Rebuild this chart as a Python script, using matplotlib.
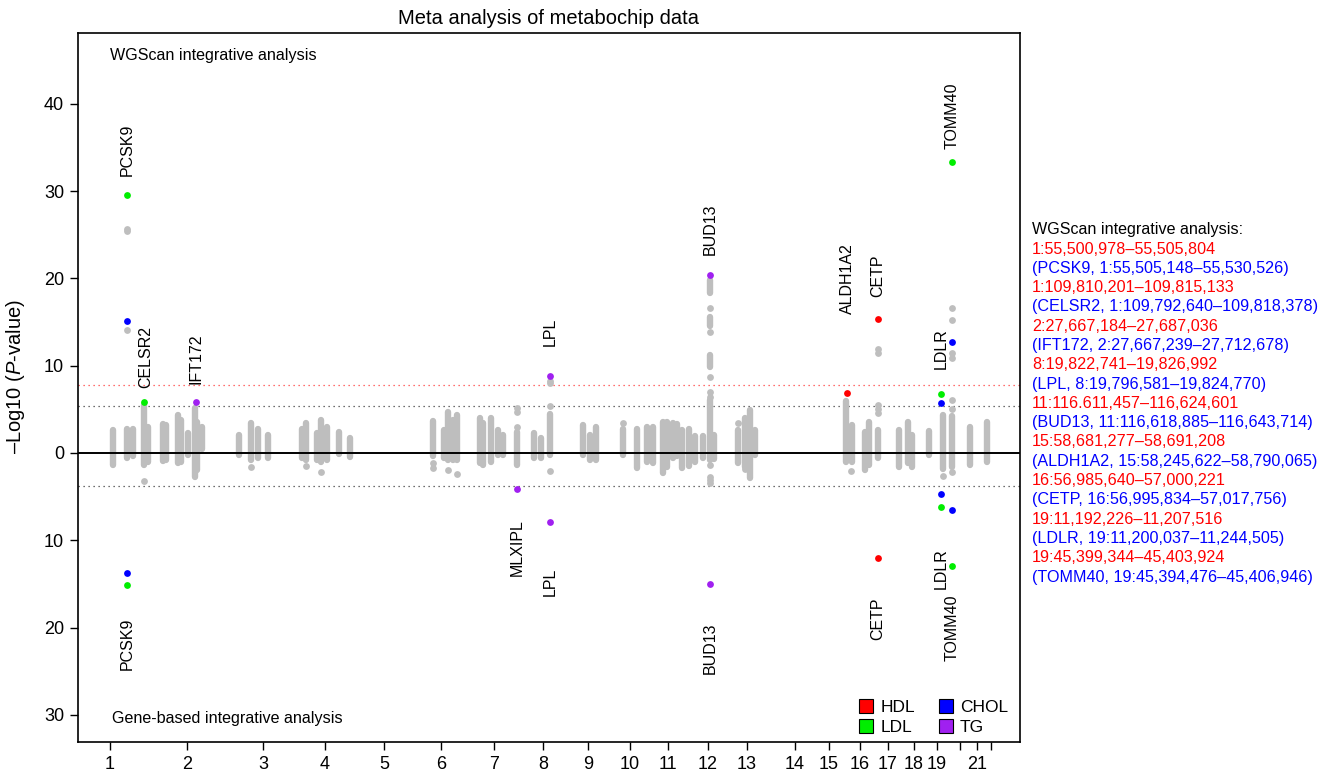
import matplotlib
matplotlib.use("Agg")
import matplotlib.pyplot as plt
from matplotlib.lines import Line2D

plt.rcParams['font.family'] = ['Liberation Sans', 'DejaVu Sans']
plt.rcParams['mathtext.fontset'] = 'custom'
plt.rcParams['mathtext.rm'] = 'Liberation Sans'
plt.rcParams['mathtext.it'] = 'Liberation Sans:italic'

# chromosome tick positions on the cumulative genome axis
chr_pos = [110, 187, 263, 325, 384, 441, 494, 543, 588, 630, 668,
           708, 747, 795, 829, 860, 888, 914, 937, 960, 977, 991]
chr_lab = ['1', '2', '3', '4', '5', '6', '7', '8', '9', '10', '11',
           '12', '13', '14', '15', '16', '17', '18', '19', '', '21', '']

# gray SNP clusters: position, lowest and highest value
col_x = [113, 127, 133, 144, 148, 163, 166, 178, 181, 188, 195, 197, 202,
         239, 251, 258, 268, 302, 306, 317, 321, 327, 339, 350,
         433, 444, 448, 453, 457, 480, 483, 491, 498, 503, 517, 534, 541, 550,
         583, 590, 596, 623, 637, 647, 653, 663, 667, 673, 677, 682, 689, 695,
         703, 710, 710, 710, 710, 714, 738, 745, 750, 755,
         846, 852, 865, 869, 878, 899, 908, 912, 929, 943, 952, 970, 987]
col_lo = [-1.4, -0.6, -0.4, -1.4, -1.0, -0.9, -0.8, -1.2, -1.0, -0.2, -2.8, -2.0, 0.5,
          -0.2, -0.8, -0.6, -0.6, -0.6, -0.8, -0.8, -1.0, -0.8, -0.1, -0.5,
          -0.4, -0.6, -0.8, -0.8, -0.8, -1.2, -1.4, -1.0, -0.2, -0.2, -1.4, -0.6, -0.6, -0.2,
          -0.2, -0.8, -0.8, -0.2, -1.7, -1.0, -1.2, -2.3, -1.6, -0.6, -0.4, -1.7, -1.5, -1.0,
          -0.6, -0.8, 18.3, 14.6, 9.9, -0.7, -1.2, -1.6, -2.9, -0.2,
          -1.0, -1.0, -1.9, -1.4, -0.6, -1.6, -1.2, -1.6, -0.2, -1.8, -1.6, -1.4, -1.0]
col_hi = [2.6, 2.8, 2.7, 5.5, 3.0, 3.3, 3.2, 4.4, 3.8, 2.3, 5.1, 3.5, 3.0,
          2.1, 3.4, 2.7, 2.1, 2.8, 3.4, 2.3, 3.8, 3.0, 2.4, 1.7,
          3.7, 2.6, 4.7, 3.8, 4.4, 4.0, 3.4, 4.0, 2.6, 2.1, 2.4, 2.3, 1.7, 4.5,
          3.2, 2.1, 3.0, 2.8, 2.8, 3.0, 3.0, 3.6, 3.5, 3.4, 3.3, 2.6, 2.8, 1.9,
          1.9, 6.1, 19.8, 15.6, 11.2, 2.1, 2.6, 4.0, 4.9, 2.6,
          5.9, 3.2, 2.4, 3.6, 2.6, 2.6, 3.6, 2.1, 2.5, 4.4, 4.2, 3.0, 3.6]

# isolated gray SNPs
dot_x = [127, 127, 127, 144, 251, 306, 321, 433, 433, 448, 457,
         517, 517, 517, 550, 550, 550, 550, 623,
         710, 710, 710, 710, 710, 710, 710, 710, 710,
         738, 745, 851, 878, 878, 878, 878, 878, 943,
         952, 952, 952, 952, 952, 952, 952]
dot_y = [25.7, 25.4, 14.1, -3.2, -1.6, -1.5, -2.2, -1.2, -1.7, -1.9, -2.4,
         5.1, 4.7, 3.0, 8.3, 8.0, 5.4, -2.1, 3.4,
         16.6, 13.9, 8.7, 7.0, 6.4, -1.4, -2.7, -3.1, -3.4,
         3.4, -1.8, -2.1, 11.9, 11.5, 5.5, 5.0, 4.6, -2.6,
         16.6, 15.2, 11.4, 10.9, 6.1, 5.0, -2.2]

# significant loci per trait (positive = WGScan, negative = gene-based)
hdl_x = [847, 878, 878]
hdl_y = [6.9, 15.3, -12.0]
ldl_x = [127, 144, 941, 952, 127, 941, 952]
ldl_y = [29.5, 5.8, 6.7, 33.3, -15.1, -6.2, -13.0]
chol_x = [127, 941, 952, 127, 941, 952]
chol_y = [15.1, 5.7, 12.7, -13.7, -4.7, -6.5]
tg_x = [196, 550, 710, 517, 550, 710]
tg_y = [5.8, 8.8, 20.4, -4.1, -7.9, -15.0]

# gene labels: name, position, anchor value
gene_lab = ['PCSK9', 'CELSR2', 'IFT172', 'LPL', 'BUD13', 'ALDH1A2', 'CETP', 'LDLR', 'TOMM40',
            'PCSK9', 'MLXIPL', 'LPL', 'BUD13', 'CETP', 'LDLR', 'TOMM40']
gene_x = [127, 146, 196, 550, 710, 847, 878, 941, 952,
          127, 517, 550, 710, 878, 941, 952]
gene_y = [31.7, 7.4, 7.9, 12.3, 22.7, 15.9, 17.9, 9.6, 34.8,
          -18.9, -7.6, -13.1, -19.4, -16.5, -10.9, -16.2]

right_lines = ['1:55,500,978\u201355,505,804',
               '(PCSK9, 1:55,505,148\u201355,530,526)',
               '1:109,810,201\u2013109,815,133',
               '(CELSR2, 1:109,792,640\u2013109,818,378)',
               '2:27,667,184\u201327,687,036',
               '(IFT172, 2:27,667,239\u201327,712,678)',
               '8:19,822,741\u201319,826,992',
               '(LPL, 8:19,796,581\u201319,824,770)',
               '11:116.611,457\u2013116,624,601',
               '(BUD13, 11:116,618,885\u2013116,643,714)',
               '15:58,681,277\u201358,691,208',
               '(ALDH1A2, 15:58,245,622\u201358,790,065)',
               '16:56,985,640\u201357,000,221',
               '(CETP, 16:56,995,834\u201357,017,756)',
               '19:11,192,226\u201311,207,516',
               '(LDLR, 19:11,200,037\u201311,244,505)',
               '19:45,399,344\u201345,403,924',
               '(TOMM40, 19:45,394,476\u201345,406,946)']

ytick_vals = [-30, -20, -10, 0, 10, 20, 30, 40]
ytick_labs = ['30', '20', '10', '0', '10', '20', '30', '40']

fig = plt.figure(figsize=(13.23, 7.77), dpi=100)
ax = fig.add_axes([78 / 1323, 35 / 777, 942 / 1323, 709 / 777])

gray = '#BEBEBE'
ax.vlines(col_x, col_lo, col_hi, colors=gray, lw=4.6, capstyle='round', zorder=2)
ax.scatter(dot_x, dot_y, s=24, color=gray, lw=0, zorder=2)

ax.axhline(0, color='black', lw=1.4, zorder=3)
ax.axhline(7.8, color='#FF4040', lw=0.9, ls=(0, (1, 3)), zorder=1)
ax.axhline(5.4, color='#404040', lw=0.9, ls=(0, (1, 3)), zorder=1)
ax.axhline(-3.8, color='#404040', lw=0.9, ls=(0, (1, 3)), zorder=1)

trait_col = {'HDL': '#FF0000', 'LDL': '#00EE00', 'CHOL': '#0000FF', 'TG': '#A020F0'}
ax.scatter(hdl_x, hdl_y, s=24, color=trait_col['HDL'], lw=0, zorder=4)
ax.scatter(ldl_x, ldl_y, s=24, color=trait_col['LDL'], lw=0, zorder=4)
ax.scatter(chol_x, chol_y, s=24, color=trait_col['CHOL'], lw=0, zorder=4)
ax.scatter(tg_x, tg_y, s=24, color=trait_col['TG'], lw=0, zorder=4)

for name, gx, gy in zip(gene_lab, gene_x, gene_y):
    ax.text(gx, gy, name, rotation=90, ha='center',
            va='bottom' if gy > 0 else 'top', fontsize=11.5)

ax.text(110, 45.5, 'WGScan integrative analysis', fontsize=11.6, va='center')
ax.text(112, -30.4, 'Gene-based integrative analysis', fontsize=11.6, va='center')

handles = [Line2D([], [], marker='s', ls='', markersize=10, markerfacecolor=trait_col[k],
                  markeredgecolor='black', markeredgewidth=0.8, label=k)
           for k in ['HDL', 'LDL', 'CHOL', 'TG']]
ax.legend(handles=handles, ncol=2, loc='lower right', frameon=False, fontsize=12.5,
          handlelength=0.8, handletextpad=0.4, columnspacing=1.4, labelspacing=0.25,
          bbox_to_anchor=(1.004, -0.012))

ax.set_xlim(78, 1020)
ax.set_ylim(-33.1, 48.1)
ax.set_xticks(chr_pos)
ax.set_xticklabels(chr_lab, fontsize=13)
ax.set_yticks(ytick_vals)
ax.set_yticklabels(ytick_labs, fontsize=13)
ax.tick_params(length=6, width=1, pad=4)
for s in ax.spines.values():
    s.set_linewidth(1.2)
ax.set_ylabel('\u2013Log10 ($\\it{P}$-value)', fontsize=14.5)
ax.yaxis.set_label_coords(-0.054, 0.516)

fig.text(549 / 1323, 1 - 18 / 777, 'Meta analysis of metabochip data',
         ha='center', va='center', fontsize=14.5)

fig.text(1032 / 1323, 1 - 230 / 777, 'WGScan integrative analysis:',
         fontsize=11.6, va='center')
for i, line in enumerate(right_lines):
    fig.text(1032 / 1323, 1 - (249 + i * 19.3) / 777, line, fontsize=11.6, va='center',
             color='#FF0000' if i % 2 == 0 else '#0000FF')

fig.savefig('out.png', dpi=100)
